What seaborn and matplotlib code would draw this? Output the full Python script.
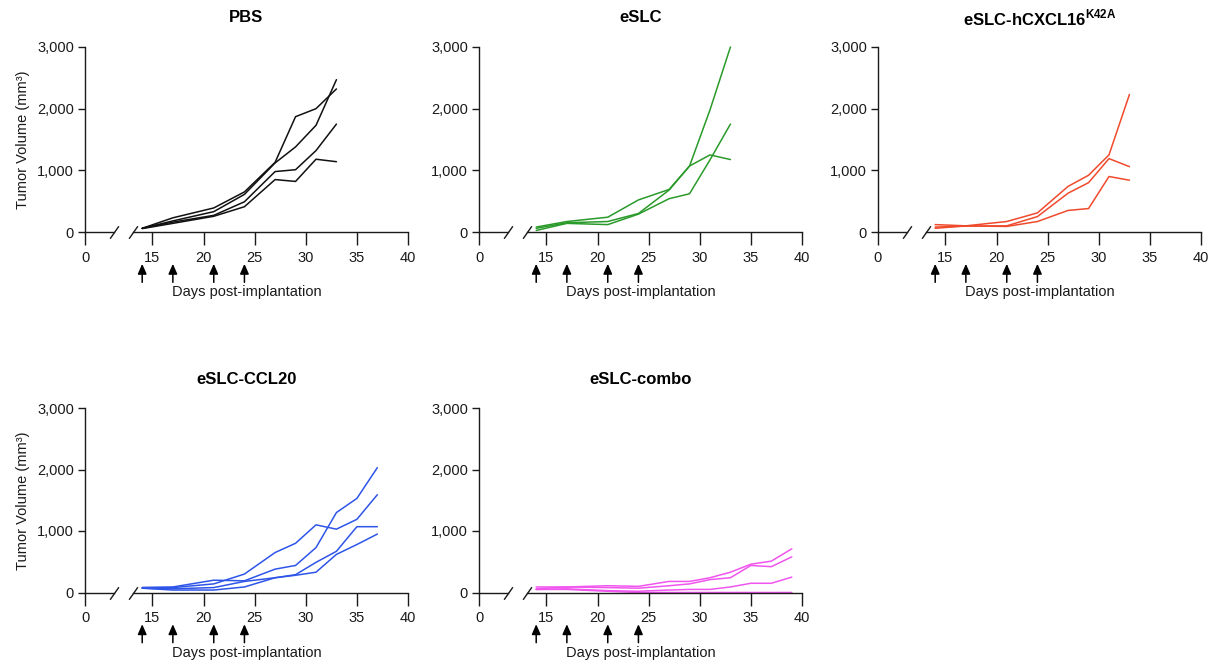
import matplotlib
matplotlib.use("Agg")
import matplotlib.pyplot as plt
import pandas as pd
import seaborn as sns

# measurement days per group
days_8 = [14, 17, 21, 24, 27, 29, 31, 33]
days_10 = [14, 17, 21, 24, 27, 29, 31, 33, 35, 37]
days_11 = [14, 17, 21, 24, 27, 29, 31, 33, 35, 37, 39]

# tumor volumes (mm3), one list per mouse
pbs = [
    [60, 230, 390, 650, 1130, 1870, 2000, 2320],
    [60, 180, 330, 610, 1120, 1380, 1730, 2470],
    [60, 160, 270, 490, 980, 1010, 1320, 1750],
    [55, 140, 255, 410, 850, 820, 1180, 1140],
]
eslc = [
    [80, 170, 240, 520, 690, 1070, 1250, 1175],
    [60, 150, 170, 300, 680, 1070, 1980, 3000],
    [25, 140, 120, 290, 540, 620, 1170, 1750],
]
eslc_cxcl16 = [
    [60, 100, 170, 310, 740, 920, 1250, 2230],
    [80, 95, 100, 250, 630, 800, 1190, 1060],
    [120, 100, 90, 170, 350, 380, 900, 840],
]
eslc_ccl20 = [
    [80, 90, 200, 190, 380, 440, 730, 1300, 1530, 2030],
    [80, 80, 140, 300, 650, 800, 1100, 1030, 1190, 1590],
    [70, 60, 80, 180, 240, 290, 490, 670, 1070, 1070],
    [70, 40, 40, 90, 240, 280, 330, 620, 780, 950],
]
eslc_combo = [
    [90, 90, 110, 100, 180, 180, 240, 330, 460, 510, 710],
    [60, 90, 80, 70, 110, 140, 210, 240, 440, 420, 580],
    [50, 60, 30, 20, 40, 50, 50, 90, 150, 150, 250],
    [50, 50, 20, 0, 0, 0, 0, 0, 0, 0, 0],
]

arrow_days = [14, 17, 21, 24]
yticks = [0, 1000, 2000, 3000]
ytick_labels = ["0", "1,000", "2,000", "3,000"]
xticks = [15, 20, 25, 30, 35, 40]

panels = [
    ("PBS", days_8, pbs, "#111111", 0, 0),
    ("eSLC", days_8, eslc, "#2a9a2a", 1, 0),
    (r"eSLC-hCXCL16$^{\mathbf{K42A}}$", days_8, eslc_cxcl16, "#f04a2c", 2, 0),
    ("eSLC-CCL20", days_10, eslc_ccl20, "#2f55e8", 0, 1),
    ("eSLC-combo", days_11, eslc_combo, "#f055ee", 1, 1),
]

sns.set_theme(style="ticks")
plt.rcParams["font.family"] = ["Liberation Sans", "DejaVu Sans"]
plt.rcParams["mathtext.fontset"] = "custom"
plt.rcParams["mathtext.rm"] = "Liberation Sans"
plt.rcParams["mathtext.bf"] = "Liberation Sans:bold"

W, H = 1210, 663
fig = plt.figure(figsize=(W / 100, H / 100), dpi=100)

col_x = [85, 479, 878]
row_y = [(47, 232), (408, 592.5)]
ink = "#1a1a1a"

for title, days, curves, color, col, row in panels:
    x0 = col_x[col]
    ytop, ybot = row_y[row]
    h = (ybot - ytop) / H
    ax_l = fig.add_axes([x0 / W, 1 - ybot / H, 29 / W, h])
    ax_r = fig.add_axes([(x0 + 48) / W, 1 - ybot / H, 275 / W, h], sharey=ax_l)

    rows = []
    for m, vals in enumerate(curves):
        for d, v in zip(days, vals):
            rows.append({"mouse": m, "day": d, "vol": v})
    df = pd.DataFrame(rows)
    sns.lineplot(data=df, x="day", y="vol", units="mouse", estimator=None,
                 color=color, lw=1.1, ax=ax_r, legend=False)
    for ln in ax_r.lines:
        ln.set_clip_on(False)

    ax_l.set_ylim(0, 3000)
    ax_l.set_xlim(0, 2.8)
    ax_r.set_xlim(13.1, 40)
    ax_l.set_xticks([0])
    ax_r.set_xticks(xticks)
    ax_l.set_yticks(yticks)
    ax_l.set_yticklabels(ytick_labels)

    for ax in (ax_l, ax_r):
        ax.spines["top"].set_visible(False)
        ax.spines["right"].set_visible(False)
        ax.spines["bottom"].set_color(ink)
        ax.spines["left"].set_color(ink)
        ax.spines["bottom"].set_linewidth(1)
        ax.spines["left"].set_linewidth(1)
        ax.set_facecolor("none")
        ax.set_xlabel("")
        ax.set_ylabel("")
        ax.tick_params(axis="x", direction="out", length=9.5, width=1,
                       pad=4, labelsize=10.5, colors=ink)
        ax.tick_params(axis="y", direction="out", length=5, width=1,
                       pad=3, labelsize=10.5, colors=ink)
    ax_r.spines["left"].set_visible(False)
    ax_r.tick_params(axis="y", left=False, labelleft=False)

    # axis break marks
    brk = dict(marker=[(-0.7, -1), (0.7, 1)], markersize=9, linestyle="none",
               color=ink, mec=ink, mew=1, clip_on=False)
    ax_l.plot([1], [0], transform=ax_l.transAxes, **brk)
    ax_r.plot([0], [0], transform=ax_r.transAxes, **brk)

    # dosing arrows
    for d in arrow_days:
        ax_r.annotate("", xy=(d, -0.172), xytext=(d, -0.272),
                      xycoords=("data", "axes fraction"),
                      textcoords=("data", "axes fraction"),
                      arrowprops=dict(arrowstyle="-|>,head_length=0.5,head_width=0.22",
                                      color="black", lw=1.1, shrinkA=0, shrinkB=0))

    cx = (x0 + x0 + 323) / 2 / W
    fig.text(cx, 1 - (ybot + 60) / H, "Days post-implantation",
             ha="center", va="center", fontsize=10.5, color=ink)
    fig.text(cx, 1 - (ytop - 29) / H, title, ha="center", va="center",
             fontsize=12, fontweight="bold", color="black")

    if col == 0:
        ax_l.set_ylabel("Tumor Volume (mm³)", fontsize=10.5, color=ink, labelpad=5)

fig.savefig("out.png", dpi=100)
